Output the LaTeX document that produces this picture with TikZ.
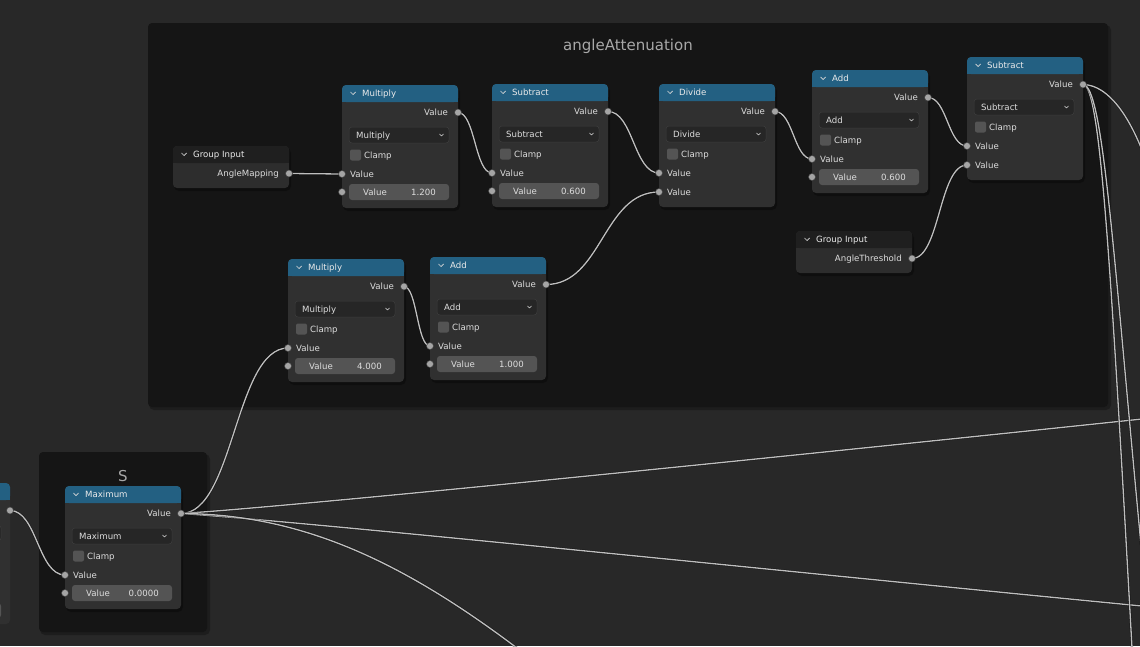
\documentclass[tikz,border=0pt]{standalone}
\usepackage{fontspec}
\setmainfont{DejaVu Sans}
\definecolor{bgc}{RGB}{40,40,40}
\definecolor{framec}{RGB}{21,21,21}
\definecolor{bodyc}{RGB}{48,48,48}
\definecolor{hdrc}{RGB}{35,96,130}
\definecolor{gihdr}{RGB}{31,31,31}
\definecolor{gibody}{RGB}{45,45,45}
\definecolor{fieldc}{RGB}{84,84,84}
\definecolor{ddc}{RGB}{38,38,38}
\definecolor{ddborder}{RGB}{62,62,62}
\definecolor{txtc}{RGB}{222,222,222}
\definecolor{sockc}{RGB}{165,165,165}
\definecolor{linkc}{RGB}{190,190,190}
\definecolor{flabel}{RGB}{168,168,168}
\pgfdeclarelayer{bgl}
\pgfdeclarelayer{lnk}
\pgfsetlayers{bgl,lnk,main}
\tikzset{
  txt/.style={text=txtc, font=\fontsize{8.6}{10}\selectfont, inner sep=0pt, text height=6.3pt, text depth=0pt},
  hdrtxt/.style={txt, text=white!92!black, anchor=west},
  chev/.style={draw=white!85!black, line width=0.7pt, line cap=round, line join=round},
  ddbox/.style={fill=ddc, draw=ddborder, line width=0.5pt, rounded corners=3pt},
  sock/.style={fill=sockc, draw=black!75, line width=0.5pt},
  lk/.style={draw=linkc, line width=1.3pt, preaction={draw=black, opacity=0.45, line width=2.4pt}},
  shadow/.style={fill=black, opacity=0.3, rounded corners=5pt},
  flab/.style={text=flabel, font=\fontsize{15}{18}\selectfont, inner sep=0pt},
}
% math node: name, x, y, title, operation, field value (empty = plain second input)
\newcommand\mnode[6]{%
\begin{scope}[shift={(#2,#3)}]
  \path[shadow] (1,2) rectangle (118,126);
  \fill[bodyc, rounded corners=4pt] (0,0) rectangle (116,123);
  \fill[hdrc, rounded corners=4pt] (0,0) rectangle (116,17);
  \fill[hdrc] (0,8) rectangle (116,17);
  \draw[chev] (8.5,7) -- (11,9.5) -- (13.5,7);
  \node[hdrtxt] at (20,8.8) {#4};
  \node[txt, anchor=east] at (106,27.5) {Value};
  \coordinate (#1-out) at (116,27.5);
  \draw[ddbox] (7,42) rectangle (107,58);
  \node[txt, anchor=west] at (14,50) {#5};
  \draw[chev, line width=0.55pt] (97.5,49) -- (99.5,51) -- (101.5,49);
  \fill[fieldc, rounded corners=2pt] (8,64.5) rectangle (19,75.5);
  \node[txt, anchor=west] at (22,70) {Clamp};
  \node[txt, anchor=west] at (8,89) {Value};
  \coordinate (#1-in1) at (0,89);
  \def\fieldval{#6}%
  \ifx\fieldval\empty
    \node[txt, anchor=west] at (8,108) {Value};
    \coordinate (#1-in2) at (0,108);
  \else
    \fill[fieldc, rounded corners=3pt] (7,99) rectangle (107,115);
    \node[txt] at (33,107) {Value};
    \node[txt, anchor=east] at (94,107) {#6};
    \coordinate (#1-in2) at (0,107);
  \fi
  \path[sock] (#1-out) circle (3.5pt) (#1-in1) circle (3.5pt) (#1-in2) circle (3.5pt);
\end{scope}}
% group input node: name, x, y, output label
\newcommand\ginode[4]{%
\begin{scope}[shift={(#2,#3)}]
  \path[shadow] (1,2) rectangle (118,45);
  \fill[gibody, rounded corners=4pt] (0,0) rectangle (116,42);
  \fill[gihdr, rounded corners=4pt] (0,0) rectangle (116,17);
  \fill[gihdr] (0,8) rectangle (116,17);
  \draw[chev] (8.5,7) -- (11,9.5) -- (13.5,7);
  \node[hdrtxt] at (20,8.8) {Group Input};
  \node[txt, anchor=east] at (106,27.5) {#4};
  \coordinate (#1-out) at (116,27.5);
  \path[sock] (#1-out) circle (3.5pt);
\end{scope}}
\begin{document}
\begin{tikzpicture}[x=1pt, y=-1pt]
\useasboundingbox (0,0) rectangle (1140,646);
\begin{pgfonlayer}{bgl}
  \fill[bgc] (0,0) rectangle (1140,646);
  \fill[black, opacity=0.25, rounded corners=5pt] (149,25) rectangle (1111,410);
  \fill[framec, rounded corners=4pt] (148,23) rectangle (1108,407);
  \node[flab] (fA) at (628,46) {angleAttenuation};
  \fill[black, opacity=0.25, rounded corners=5pt] (40,454) rectangle (210,635);
  \fill[framec, rounded corners=4pt] (39,452) rectangle (207,632);
  \node[flab] (fS) at (123,476) {S};
\end{pgfonlayer}

% partial node at the left edge
\begin{scope}[shift={(-106,483)}]
  \fill[bodyc, rounded corners=4pt] (0,0) rectangle (116,141);
  \fill[hdrc, rounded corners=4pt] (0,0) rectangle (116,17);
  \fill[hdrc] (0,8) rectangle (116,17);
  \node[txt, anchor=east] at (106,27.5) {Value};
  \coordinate (lft-out) at (116,27.5);
  \draw[ddbox] (7,42) rectangle (107,58);
  \fill[fieldc, rounded corners=3pt] (7,120) rectangle (107,135);
  \path[sock] (lft-out) circle (3.5pt);
\end{scope}

\ginode{gi1}{173}{146}{AngleMapping}
\ginode{gi2}{796}{231}{AngleThreshold}
\mnode{mul1}{342}{85}{Multiply}{Multiply}{1.200}
\mnode{sub1}{492}{84}{Subtract}{Subtract}{0.600}
\mnode{div}{659}{84}{Divide}{Divide}{}
\mnode{add1}{812}{70}{Add}{Add}{0.600}
\mnode{sub2}{967}{57}{Subtract}{Subtract}{}
\mnode{mul2}{288}{259}{Multiply}{Multiply}{4.000}
\mnode{add2}{430}{257}{Add}{Add}{1.000}
\mnode{max}{65}{486}{Maximum}{Maximum}{0.0000}

\coordinate (offD) at (1142,419);
\coordinate (offE) at (1142,606);
\coordinate (offF) at (517,648);
\coordinate (offA) at (1132,648);
\coordinate (offB) at (1141,545);
\coordinate (offC) at (1142,150);

\begin{pgfonlayer}{lnk}
  \draw[lk] (gi1-out) -- (mul1-in1);
  \draw[lk] (mul1-out) .. controls +(17,0) and +(-17,0) .. (sub1-in1);
  \draw[lk] (sub1-out) .. controls +(25,0) and +(-25,0) .. (div-in1);
  \draw[lk] (div-out) .. controls +(18,0) and +(-18,0) .. (add1-in1);
  \draw[lk] (add1-out) .. controls +(19,0) and +(-19,0) .. (sub2-in1);
  \draw[lk] (gi2-out) .. controls +(28,0) and +(-28,0) .. (sub2-in2);
  \draw[lk] (mul2-out) .. controls +(13,0) and +(-13,0) .. (add2-in1);
  \draw[lk] (add2-out) .. controls +(56,0) and +(-56,0) .. (div-in2);
  \draw[lk] (max-out) .. controls +(53,0) and +(-53,0) .. (mul2-in1);
  \draw[lk] (lft-out) .. controls +(27,0) and +(-27,0) .. (max-in1);
  \draw[lk] (max-out) .. controls (300,506) and (800,455) .. (offD);
  \draw[lk] (max-out) .. controls (300,521) and (850,578) .. (offE);
  \draw[lk] (max-out) .. controls (300,514) and (400,560) .. (offF);
  \draw[lk] (sub2-out) .. controls (1100,85) and (1110,250) .. (offA);
  \draw[lk] (sub2-out) .. controls (1103,85) and (1113,250) .. (offB);
  \draw[lk] (sub2-out) .. controls (1110,85) and (1130,120) .. (offC);
\end{pgfonlayer}
\end{tikzpicture}
\end{document}
